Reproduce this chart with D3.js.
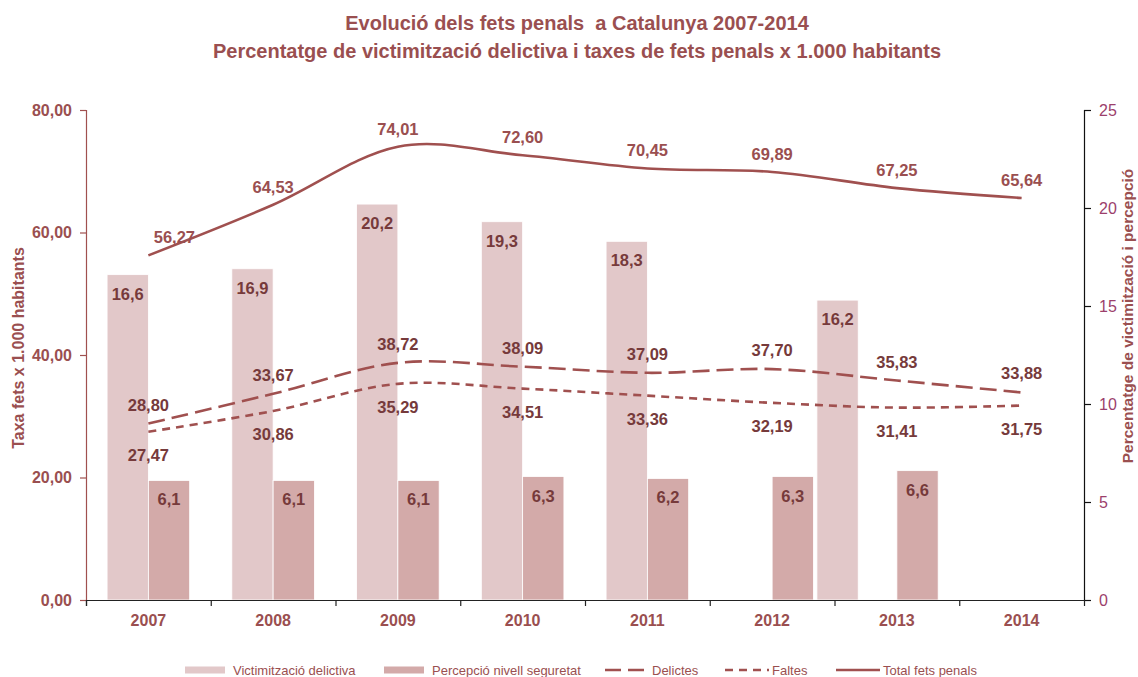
<!DOCTYPE html>
<html>
<head>
<meta charset="utf-8">
<script src="https://cdn.jsdelivr.net/npm/d3@7"></script>
<style>
  html, body { margin: 0; padding: 0; background: #fff; }
  #chart { width: 1138px; height: 677px; }
  text { font-family: "Liberation Sans", Arial, sans-serif; }
</style>
</head>
<body>
<div id="chart"></div>
<script>
/* Data */
var years = [2007, 2008, 2009, 2010, 2011, 2012, 2013, 2014];

// Victimització delictiva (right axis, %). The 2013 bar sits offset in the source chart.
var victimPos = [2007, 2008, 2009, 2010, 2011, 2012.69];
var victimValues = [16.6, 16.9, 20.2, 19.3, 18.3, 15.3];
var victimLabels = ['16,6', '16,9', '20,2', '19,3', '18,3', '16,2'];

// Percepció nivell seguretat (right axis)
var percepYears = [2007, 2008, 2009, 2010, 2011, 2012, 2013];
var percepValues = [6.1, 6.1, 6.1, 6.3, 6.2, 6.3, 6.6];

// Taxes x 1.000 habitants (left axis)
var delictes = [28.80, 33.67, 38.72, 38.09, 37.09, 37.70, 35.83, 33.88];
var faltes = [27.47, 30.86, 35.29, 34.51, 33.36, 32.19, 31.41, 31.75];
var totalFets = [56.27, 64.53, 74.01, 72.60, 70.45, 69.89, 67.25, 65.64];

var leftTicks = [0, 20, 40, 60, 80];
var rightTicks = [0, 5, 10, 15, 20, 25];

var titleLines = [
  'Evolució dels fets penals  a Catalunya 2007-2014',
  'Percentatge de victimització delictiva i taxes de fets penals x 1.000 habitants'
];

/* Colours */
var C = {
  text: '#9a4f50',
  label: '#763a3b',
  line: '#a0504f',
  light: '#e2c8c9',
  dark: '#d3aaa9',
  rightTick: '#9c3f6c'
};

var fmt2 = function (v) { return v.toFixed(2).replace('.', ','); };

var W = 1138, H = 677;
var m = { top: 110, right: 54, bottom: 77, left: 86 };
var innerW = W - m.left - m.right;
var innerH = H - m.top - m.bottom;

var svg = d3.select('#chart').append('svg')
  .attr('width', W).attr('height', H);

var g = svg.append('g').attr('transform', 'translate(' + m.left + ',' + m.top + ')');

/* Scales */
var xYear = d3.scaleLinear().domain([2006.5, 2014.5]).range([0, innerW]);
var yL = d3.scaleLinear().domain([0, 80]).range([innerH, 0]);
var yR = d3.scaleLinear().domain([0, 25]).range([innerH, 0]);
var bw = (xYear(1) - xYear(0)) * 0.331;

/* Bars */
g.selectAll('.bar-victim')
  .data(victimValues)
  .join('rect')
  .attr('class', 'bar-victim')
  .attr('x', function (d, i) { return xYear(victimPos[i]) - bw; })
  .attr('y', function (d) { return yR(d); })
  .attr('width', bw)
  .attr('height', function (d) { return innerH - yR(d); })
  .attr('fill', C.light)
  .attr('stroke', '#fff')
  .attr('stroke-width', 0.8);

g.selectAll('.bar-percep')
  .data(percepValues)
  .join('rect')
  .attr('class', 'bar-percep')
  .attr('x', function (d, i) { return xYear(percepYears[i]); })
  .attr('y', function (d) { return yR(d); })
  .attr('width', bw)
  .attr('height', function (d) { return innerH - yR(d); })
  .attr('fill', C.dark)
  .attr('stroke', '#fff')
  .attr('stroke-width', 0.8);

/* Bar labels */
g.selectAll('.lbl-victim')
  .data(victimValues)
  .join('text')
  .attr('x', function (d, i) { return xYear(victimPos[i]) - bw / 2; })
  .attr('y', function (d) { return yR(d) + 25; })
  .attr('text-anchor', 'middle')
  .attr('font-size', '16.5px').attr('font-weight', 'bold')
  .attr('fill', C.label)
  .text(function (d, i) { return victimLabels[i]; });

g.selectAll('.lbl-percep')
  .data(percepValues)
  .join('text')
  .attr('x', function (d, i) { return xYear(percepYears[i]) + bw / 2; })
  .attr('y', function (d) { return yR(d) + 25; })
  .attr('text-anchor', 'middle')
  .attr('font-size', '16.5px').attr('font-weight', 'bold')
  .attr('fill', C.label)
  .text(function (d) { return d.toFixed(1).replace('.', ','); });

/* Lines */
var line = d3.line()
  .x(function (d, i) { return xYear(years[i]); })
  .y(function (d) { return yL(d); })
  .curve(d3.curveCardinal.tension(0));

var series = [
  { values: delictes, dash: '17,7', lblDy: -13, color: C.label },
  { values: faltes, dash: '8,6', lblDy: 29, color: C.label },
  { values: totalFets, dash: null, lblDy: -12, color: C.text }
];

series.forEach(function (s) {
  g.append('path')
    .datum(s.values)
    .attr('d', line)
    .attr('fill', 'none')
    .attr('stroke', C.line)
    .attr('stroke-width', 2.6)
    .attr('stroke-dasharray', s.dash);

  g.selectAll(null)
    .data(s.values)
    .join('text')
    .attr('x', function (d, i) {
      return xYear(years[i]) + (s.values === totalFets && i === 0 ? 26 : 0);
    })
    .attr('y', function (d) { return yL(d) + s.lblDy; })
    .attr('text-anchor', 'middle')
    .attr('font-size', '16.5px').attr('font-weight', 'bold')
    .attr('fill', s.color)
    .text(function (d) { return fmt2(d); });
});

/* Left axis */
var axL = g.append('g')
  .call(d3.axisLeft(yL).tickValues(leftTicks).tickSize(6).tickPadding(8).tickFormat(fmt2));
axL.selectAll('.domain, .tick line').attr('stroke', C.line).attr('stroke-width', 1.2);
axL.selectAll('text')
  .attr('fill', C.text).attr('font-size', '16px').attr('font-weight', 'bold')
  .attr('font-family', '"Liberation Sans", Arial, sans-serif');

/* Right axis */
var axR = g.append('g')
  .attr('transform', 'translate(' + innerW + ',0)')
  .call(d3.axisRight(yR).tickValues(rightTicks).tickSize(7).tickPadding(8));
axR.selectAll('.domain, .tick line').attr('stroke', '#111').attr('stroke-width', 1.2);
axR.selectAll('text')
  .attr('fill', C.rightTick).attr('font-size', '16px')
  .attr('font-family', '"Liberation Sans", Arial, sans-serif');

/* Bottom axis: ticks at category boundaries, labels centred */
var boundaries = years.map(function (y) { return y - 0.5; });
var axB = g.append('g')
  .attr('transform', 'translate(0,' + innerH + ')')
  .call(d3.axisBottom(xYear).tickValues(boundaries).tickSize(6).tickFormat(''));
axB.selectAll('.domain, .tick line').attr('stroke', '#222').attr('stroke-width', 1.2);

g.selectAll('.xlabel')
  .data(years)
  .join('text')
  .attr('x', function (d) { return xYear(d); })
  .attr('y', innerH + 26)
  .attr('text-anchor', 'middle')
  .attr('font-size', '16px').attr('font-weight', 'bold')
  .attr('fill', C.text)
  .text(function (d) { return d; });

/* Axis titles */
svg.append('text')
  .attr('transform', 'translate(24,' + 348 + ') rotate(-90)')
  .attr('text-anchor', 'middle')
  .attr('font-size', '16px').attr('font-weight', 'bold')
  .attr('fill', C.text)
  .text('Taxa fets x 1.000 habitants');

svg.append('text')
  .attr('transform', 'translate(1133,' + 316 + ') rotate(-90)')
  .attr('text-anchor', 'middle')
  .attr('font-size', '15.5px').attr('font-weight', 'bold')
  .attr('fill', C.text)
  .text('Percentatge de victimització i percepció');

/* Title */
svg.selectAll('.title')
  .data(titleLines)
  .join('text')
  .attr('x', 577)
  .attr('y', function (d, i) { return 30 + i * 28; })
  .attr('text-anchor', 'middle')
  .attr('font-size', '20px').attr('font-weight', 'bold')
  .style('white-space', 'pre')
  .attr('fill', C.text)
  .text(function (d) { return d; });

/* Legend */
var legendItems = [
  { label: 'Victimització delictiva', x: 185, type: 'rect', color: C.light },
  { label: 'Percepció nivell seguretat', x: 384, type: 'rect', color: C.dark },
  { label: 'Delictes', x: 605, type: 'line', dash: '16,7' },
  { label: 'Faltes', x: 725, type: 'line', dash: '8,6' },
  { label: 'Total fets penals', x: 836, type: 'line', dash: null }
];

var lg = svg.append('g').attr('transform', 'translate(0,670)');
legendItems.forEach(function (it) {
  if (it.type === 'rect') {
    lg.append('rect').attr('x', it.x).attr('y', -3.5).attr('width', 40).attr('height', 7).attr('fill', it.color);
  } else {
    lg.append('line').attr('x1', it.x).attr('x2', it.x + 44).attr('y1', 0).attr('y2', 0)
      .attr('stroke', C.line).attr('stroke-width', 2.6).attr('stroke-dasharray', it.dash);
  }
  lg.append('text')
    .attr('x', it.x + (it.type === 'rect' ? 48 : 47))
    .attr('y', 5)
    .attr('font-size', '13px')
    .attr('fill', C.text)
    .text(it.label);
});
</script>
</body>
</html>
